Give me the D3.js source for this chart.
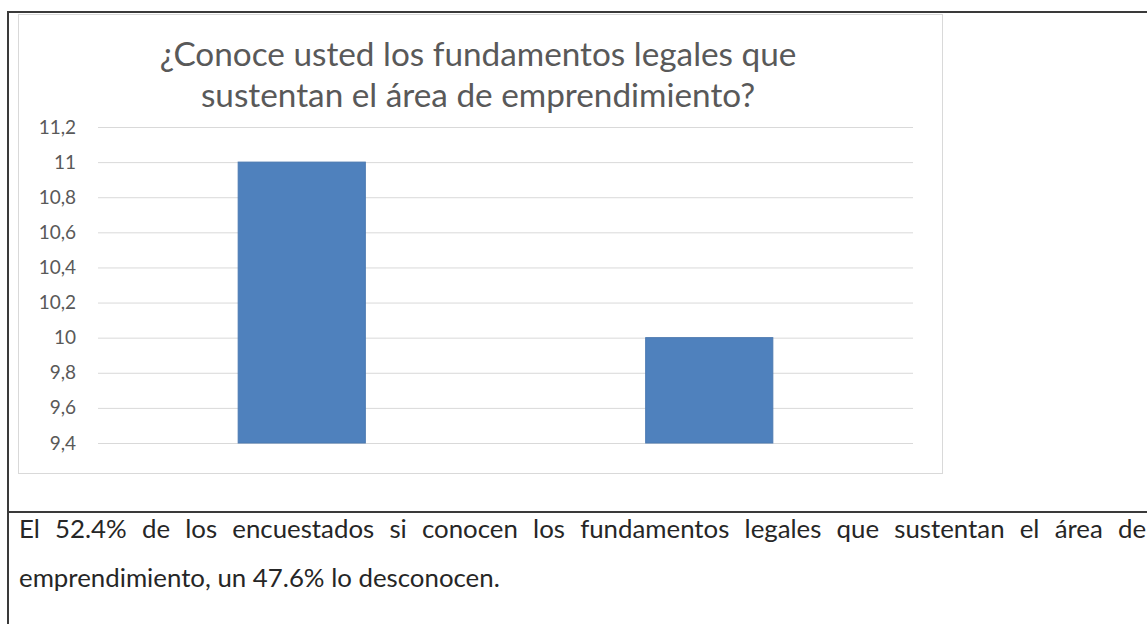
<!DOCTYPE html>
<html>
<head>
<meta charset="utf-8">
<script src="https://cdn.jsdelivr.net/npm/d3@7"></script>
<style>
  html, body { margin: 0; padding: 0; background: #ffffff; }
  svg { display: block; }
</style>
</head>
<body>
<svg id="chart" width="1147" height="624"></svg>
<script>
// ---- data ----
const categories = ["Sí", "No"];
const values = [11, 10];
const tickValues = [9.4, 9.6, 9.8, 10, 10.2, 10.4, 10.6, 10.8, 11, 11.2];
const titleLines = ["¿Conoce usted los fundamentos legales que", "sustentan el área de emprendimiento?"];
const paragraphLine1 = "El 52.4% de los encuestados si conocen los fundamentos legales que sustentan el área de";
const paragraphLine2 = "emprendimiento, un 47.6% lo desconocen.";

// ---- layout ----
const W = 1147, H = 624;
const FONT = "Lato, 'Open Sans', sans-serif";
const svg = d3.select("#chart");

// helper: fit a font size so a text has a target width
function fitSize(text, targetWidth, family) {
  const t = svg.append("text").attr("font-family", family).attr("font-size", 100).text(text);
  const w = t.node().getComputedTextLength();
  t.remove();
  return 100 * targetWidth / w;
}
function measure(text, size, family) {
  const t = svg.append("text").attr("font-family", family).attr("font-size", size).text(text);
  const w = t.node().getComputedTextLength();
  t.remove();
  return w;
}

// outer document frame
svg.append("line").attr("x1", 8).attr("x2", W).attr("y1", 12).attr("y2", 12)
  .attr("stroke", "#3a3a3a").attr("stroke-width", 2);
svg.append("line").attr("x1", 8).attr("x2", 8).attr("y1", 11).attr("y2", H)
  .attr("stroke", "#3a3a3a").attr("stroke-width", 2);
svg.append("line").attr("x1", 8).attr("x2", W).attr("y1", 512).attr("y2", 512)
  .attr("stroke", "#3a3a3a").attr("stroke-width", 2);

// chart area box
svg.append("rect").attr("x", 18.5).attr("y", 14.5).attr("width", 924).attr("height", 459)
  .attr("fill", "#ffffff").attr("stroke", "#d9d9d9").attr("stroke-width", 1);

// plot
const plotLeft = 98, plotRight = 913, plotTop = 127, plotBottom = 443;
const x = d3.scaleBand().domain(categories).range([plotLeft, plotRight])
  .paddingInner(0.688).paddingOuter(0.344);
const y = d3.scaleLinear().domain([9.4, 11.2]).range([plotBottom, plotTop]);

const locale = d3.formatLocale({ decimal: ",", thousands: ".", grouping: [3], currency: ["", ""] });
const fmt = locale.format(".1~f");

const axis = d3.axisLeft(y).tickValues(tickValues).tickFormat(fmt)
  .tickSizeInner(-(plotRight - plotLeft)).tickSizeOuter(0).tickPadding(22);
const gAxis = svg.append("g").attr("transform", `translate(${plotLeft},0)`).call(axis);
gAxis.select(".domain").remove();
gAxis.selectAll(".tick line").attr("stroke", "#d9d9d9").attr("stroke-width", 1);
gAxis.selectAll(".tick text").attr("fill", "#595959").attr("font-family", FONT)
  .attr("font-size", 19);

// bars
svg.append("g").selectAll("rect").data(values).join("rect")
  .attr("x", (d, i) => x(categories[i]))
  .attr("width", x.bandwidth())
  .attr("y", d => y(d))
  .attr("height", d => y(9.4) - y(d))
  .attr("fill", "#4f81bd")
  .attr("stroke", "#4a78b0").attr("stroke-width", 1);

// title
const titleSize = fitSize(titleLines[0], 637, FONT);
svg.append("g").selectAll("text").data(titleLines).join("text")
  .attr("x", 478)
  .attr("y", (d, i) => 66 + i * 41)
  .attr("text-anchor", "middle")
  .attr("font-family", FONT)
  .attr("font-size", titleSize)
  .attr("fill", "#595959")
  .text(d => d);

// paragraph
const pSize = fitSize(paragraphLine2, 481, FONT);
const words = paragraphLine1.split(" ");
const widths = words.map(w => measure(w, pSize, FONT));
const startX = 19, lastStart = 1118;
const sumW = d3.sum(widths.slice(0, words.length - 1));
const gap = (lastStart - startX - sumW) / (words.length - 1);
const xs = [];
let cx = startX;
words.forEach((w, i) => { xs.push(cx); cx += widths[i] + gap; });
svg.append("g").selectAll("text").data(words).join("text")
  .attr("x", (d, i) => xs[i])
  .attr("y", 538)
  .attr("font-family", FONT)
  .attr("font-size", pSize)
  .attr("fill", "#262626")
  .text(d => d);
svg.append("text")
  .attr("x", 19).attr("y", 587)
  .attr("font-family", FONT)
  .attr("font-size", pSize)
  .attr("fill", "#262626")
  .text(paragraphLine2);
</script>
</body>
</html>
